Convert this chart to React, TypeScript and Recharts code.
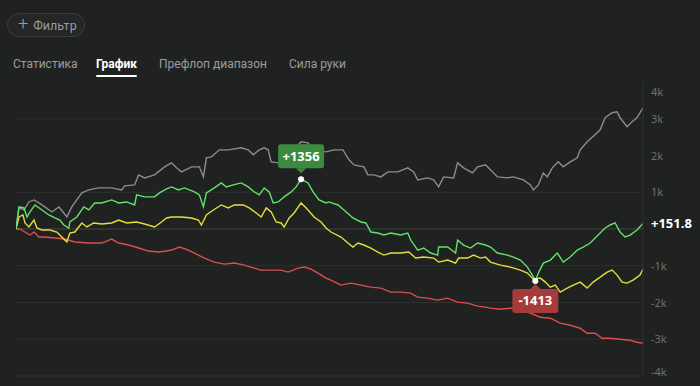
import React from "react";
import { LineChart, Line, XAxis, YAxis, CartesianGrid, ReferenceLine, ReferenceDot } from "recharts";

// [hand, winnings]
const showdownWon: [number, number][] = [
  [0, 0], [12, 573], [32, 518], [52, 736], [72, 791], [92, 709], [116, 600], [144, 464], [172, 600], [192, 436],
  [204, 327], [224, 600], [264, 982], [292, 1064], [332, 1118], [384, 1118], [424, 1064], [436, 1173], [476, 1200],
  [492, 1473], [516, 1391], [556, 1473], [596, 1691], [624, 1800], [644, 1664], [664, 1554], [704, 1691], [736, 1691],
  [752, 1418], [764, 1936], [784, 1963], [816, 2154], [852, 2154], [904, 2209], [932, 2154], [952, 2018], [976, 2154],
  [996, 2209], [1012, 2154], [1024, 1827], [1052, 1800], [1096, 2018], [1144, 2372], [1172, 2345], [1196, 2154],
  [1244, 2100], [1276, 2154], [1312, 2154], [1336, 1882], [1356, 1745], [1396, 1691], [1412, 1473], [1436, 1473],
  [1464, 1418], [1492, 1554], [1532, 1554], [1572, 1664], [1596, 1554], [1612, 1336], [1652, 1391], [1676, 1336],
  [1696, 1145], [1716, 1418], [1756, 1391], [1772, 1800], [1796, 1664], [1832, 1527], [1852, 1691], [1884, 1745],
  [1904, 1609], [1932, 1418], [1972, 1391], [1996, 1418], [2036, 1336], [2064, 1200], [2076, 1064], [2096, 1200],
  [2116, 1527], [2132, 1418], [2152, 1664], [2176, 1827], [2196, 1691], [2224, 1827], [2252, 1936], [2264, 2154],
  [2292, 2372], [2332, 2618], [2344, 2700], [2364, 3027], [2392, 3163], [2412, 3191], [2424, 3027], [2452, 2782],
  [2472, 2918], [2492, 3027], [2516, 3300],
];

const netWon: [number, number][] = [
  [0, 0], [12, 600], [32, 573], [44, 327], [56, 464], [76, 654], [104, 518], [132, 382], [156, 300], [176, 245],
  [192, 109], [212, 27], [216, 191], [244, 327], [272, 600], [292, 518], [316, 709], [344, 709], [384, 791], [412, 709],
  [444, 736], [476, 654], [484, 927], [516, 873], [556, 873], [576, 982], [604, 1091], [624, 1145], [652, 1064],
  [676, 1118], [716, 1009], [736, 927], [752, 600], [764, 982], [796, 1118], [824, 1254], [844, 1145], [872, 1200],
  [904, 1254], [932, 1145], [956, 1009], [976, 927], [996, 1118], [1016, 1009], [1032, 709], [1052, 736], [1076, 873],
  [1104, 1009], [1124, 1145], [1144, 1356], [1172, 1254], [1192, 1009], [1216, 791], [1244, 709], [1256, 736],
  [1292, 654], [1316, 518], [1352, 300], [1384, 191], [1404, 164], [1424, -82], [1452, -109], [1476, -164],
  [1504, -109], [1544, -164], [1572, -109], [1584, -300], [1612, -573], [1636, -518], [1664, -654], [1692, -709],
  [1696, -491], [1732, -491], [1764, -654], [1772, -300], [1796, -436], [1824, -518], [1852, -382], [1884, -436],
  [1904, -491], [1932, -654], [1972, -709], [1996, -764], [2024, -845], [2052, -1036], [2072, -1254], [2084, -1413],
  [2096, -1200], [2116, -927], [2144, -845], [2172, -654], [2196, -900], [2224, -764], [2252, -573], [2276, -491],
  [2304, -382], [2324, -245], [2344, -109], [2364, 27], [2384, 109], [2404, 164], [2424, -82], [2444, -218],
  [2464, -164], [2492, -27], [2516, 151.8],
];

const allInEv: [number, number][] = [
  [0, 0], [12, 327], [28, 382], [36, 164], [52, 55], [72, 245], [84, 27], [104, -27], [136, -27], [164, -82],
  [184, -218], [204, -354], [216, -109], [236, -82], [264, 164], [284, 55], [312, 164], [344, 136], [384, 164],
  [412, 245], [444, 164], [484, 191], [516, 136], [556, 55], [584, 191], [604, 300], [624, 327], [664, 327],
  [704, 300], [732, 245], [744, 109], [764, 382], [792, 518], [824, 654], [852, 573], [876, 654], [912, 654],
  [936, 573], [964, 436], [984, 327], [1004, 573], [1024, 464], [1044, 191], [1064, 164], [1076, 55], [1096, 300],
  [1116, 436], [1144, 709], [1172, 518], [1196, 327], [1224, 191], [1244, 27], [1264, -82], [1304, -218],
  [1332, -382], [1352, -491], [1372, -382], [1396, -436], [1424, -518], [1452, -627], [1476, -709], [1504, -654],
  [1544, -654], [1576, -627], [1604, -791], [1636, -764], [1676, -791], [1696, -900], [1732, -845], [1764, -927],
  [1776, -791], [1812, -791], [1836, -709], [1864, -791], [1884, -764], [1904, -900], [1944, -982], [1984, -1036],
  [2024, -1118], [2052, -1200], [2076, -1364], [2104, -1336], [2124, -1445], [2144, -1582], [2164, -1527],
  [2184, -1718], [2212, -1609], [2236, -1527], [2264, -1445], [2292, -1609], [2316, -1445], [2344, -1309],
  [2372, -1173], [2392, -1118], [2412, -1254], [2432, -1445], [2452, -1473], [2476, -1391], [2504, -1254],
  [2516, -1091],
];

const nonShowdownWon: [number, number][] = [
  [0, 0], [16, 0], [36, -82], [56, -164], [72, -82], [92, -218], [116, -218], [156, -245], [196, -273], [236, -354],
  [292, -382], [344, -382], [384, -273], [412, -382], [452, -436], [492, -518], [532, -600], [572, -627], [604, -600],
  [624, -573], [656, -491], [692, -573], [732, -709], [756, -791], [796, -900], [836, -955], [876, -927], [916, -982],
  [956, -1064], [984, -1118], [1024, -1118], [1064, -1118], [1092, -1173], [1132, -1064], [1156, -1036],
  [1184, -1091], [1212, -1200], [1244, -1336], [1264, -1391], [1304, -1527], [1344, -1473], [1384, -1527],
  [1424, -1582], [1464, -1609], [1504, -1718], [1544, -1718], [1584, -1745], [1612, -1854], [1652, -1882],
  [1692, -1936], [1732, -1882], [1772, -1991], [1812, -2018], [1852, -2100], [1884, -2127], [1904, -2154],
  [1944, -2182], [1984, -2154], [2024, -2209], [2064, -2291], [2104, -2400], [2144, -2427], [2184, -2563],
  [2224, -2618], [2264, -2700], [2292, -2836], [2324, -2836], [2352, -2972], [2384, -2972], [2424, -3000],
  [2464, -3027], [2492, -3082], [2516, -3109],
];

const yTicks = [-4000, -3000, -2000, -1000, 0, 1000, 2000, 3000, 4000];
const gridValues = [3000, 1000, -1000, -2000, -3000, -4000];
const tabs = ["Статистика", "График", "Префлоп диапазон", "Сила руки"];
const tabX = [13, 96, 159, 289];
const activeTab = 1;
const filterLabel = "Фильтр";
const maxPoint = { hand: 1144, value: 1356, label: "+1356" };
const minPoint = { hand: 2084, value: -1413, label: "-1413" };
const lastPoint = { hand: 2516, value: 151.8, label: "+151.8" };

const toRows = (arr: [number, number][]) => arr.map(([h, v]) => ({ h, v }));

const BG = "#202221";
const FONT = "Roboto, 'Noto Sans', sans-serif";
const LABEL_FONT = "'Noto Sans', Roboto, sans-serif";

const fmt = (v: number) => (v === 0 ? "" : `${v / 1000}k`);

const YTick = (props: any) => {
  const { x, y, payload } = props;
  let dy = 4;
  if (payload.value === 4000) dy = 14;
  if (payload.value === -4000) dy = 0;
  return (
    <text x={x} y={y + dy} fill="#6c706e" fontSize={11} fontFamily={LABEL_FONT} textAnchor="start">
      {fmt(payload.value)}
    </text>
  );
};

const MaxMarker = (props: any) => {
  const { cx, cy } = props;
  const w = 46, h = 24;
  const top = cy - 35;
  return (
    <g>
      <rect x={cx - w / 2} y={top} width={w} height={h} rx={3} fill="#3b8a3f" />
      <path d={`M${cx - 5},${top + h} L${cx},${top + h + 5} L${cx + 5},${top + h} Z`} fill="#3b8a3f" />
      <text x={cx} y={top + 16.5} fill="#ffffff" fontSize={13} fontWeight={700} fontFamily={LABEL_FONT} textAnchor="middle">
        {maxPoint.label}
      </text>
      <circle cx={cx} cy={cy} r={3} fill="#ffffff" />
    </g>
  );
};

const MinMarker = (props: any) => {
  const { cx, cy } = props;
  const w = 46, h = 24;
  const top = cy + 8;
  return (
    <g>
      <rect x={cx - w / 2} y={top} width={w} height={h} rx={3} fill="#a53b3b" />
      <path d={`M${cx - 5},${top} L${cx},${top - 5} L${cx + 5},${top} Z`} fill="#a53b3b" />
      <text x={cx} y={top + 16.5} fill="#ffffff" fontSize={13} fontWeight={700} fontFamily={LABEL_FONT} textAnchor="middle">
        {minPoint.label}
      </text>
      <circle cx={cx} cy={cy} r={3} fill="#ffffff" />
    </g>
  );
};

const LastLabel = (props: any) => {
  const { cx, cy } = props;
  return (
    <text x={cx + 8} y={cy + 4.5} fill="#ffffff" fontSize={13} fontWeight={700} fontFamily={LABEL_FONT} textAnchor="start">
      {lastPoint.label}
    </text>
  );
};

export default function App() {
  return (
    <div style={{ position: "fixed", left: 0, top: 0, width: 700, height: 386, background: BG, overflow: "hidden", fontFamily: FONT }}>
      <div
        style={{
          position: "absolute", left: 7, top: 13, width: 76, height: 22, borderRadius: 12,
          border: "1px solid #3a3d3c", background: "#242726", color: "#9a9d9c", fontSize: 12.5,
          display: "flex", alignItems: "center", boxSizing: "content-box",
        }}
      >
        <span style={{ marginLeft: 10, fontSize: 18, lineHeight: "18px", fontWeight: 300, marginTop: -2 }}>+</span>
        <span style={{ marginLeft: 5 }}>{filterLabel}</span>
      </div>
      {tabs.map((t, i) => (
        <div
          key={t}
          style={{
            position: "absolute", left: tabX[i], top: 57, fontSize: 12, whiteSpace: "nowrap",
            color: i === activeTab ? "#ffffff" : "#9a9d9c", fontWeight: i === activeTab ? 700 : 400,
          }}
        >
          {t}
          {i === activeTab && (
            <div style={{ position: "absolute", left: 0, right: 0, top: 18, height: 2, background: "#ffffff", borderRadius: 1 }} />
          )}
        </div>
      ))}
      <div style={{ position: "absolute", left: 0, top: 0 }}>
        <LineChart width={700} height={386} margin={{ top: 82, right: 0, bottom: 10, left: 16 }}>
          <CartesianGrid vertical={false} horizontalValues={gridValues} stroke="#2d302f" />
          <XAxis type="number" dataKey="h" domain={[0, 2516]} hide allowDataOverflow />
          <YAxis
            orientation="right"
            type="number"
            domain={[-4000, 4000]}
            ticks={yTicks}
            interval={0}
            width={57}
            tickLine={false}
            axisLine={{ stroke: "#2d302f" }}
            tick={<YTick />}
          />
          <ReferenceLine y={0} stroke="#424544" strokeWidth={1} />
          <Line data={toRows(showdownWon)} dataKey="v" stroke="#8b8d8c" strokeWidth={1.4} dot={false} isAnimationActive={false} type="linear" />
          <Line data={toRows(nonShowdownWon)} dataKey="v" stroke="#dc4e4c" strokeWidth={1.4} dot={false} isAnimationActive={false} type="linear" />
          <Line data={toRows(allInEv)} dataKey="v" stroke="#e4dd3c" strokeWidth={1.4} dot={false} isAnimationActive={false} type="linear" />
          <Line data={toRows(netWon)} dataKey="v" stroke="#62e26a" strokeWidth={1.4} dot={false} isAnimationActive={false} type="linear" />
          <ReferenceDot x={maxPoint.hand} y={maxPoint.value} r={3} shape={<MaxMarker />} ifOverflow="visible" />
          <ReferenceDot x={minPoint.hand} y={minPoint.value} r={3} shape={<MinMarker />} ifOverflow="visible" />
          <ReferenceDot x={lastPoint.hand} y={lastPoint.value} r={3} shape={<LastLabel />} ifOverflow="visible" />
        </LineChart>
      </div>
    </div>
  );
}
